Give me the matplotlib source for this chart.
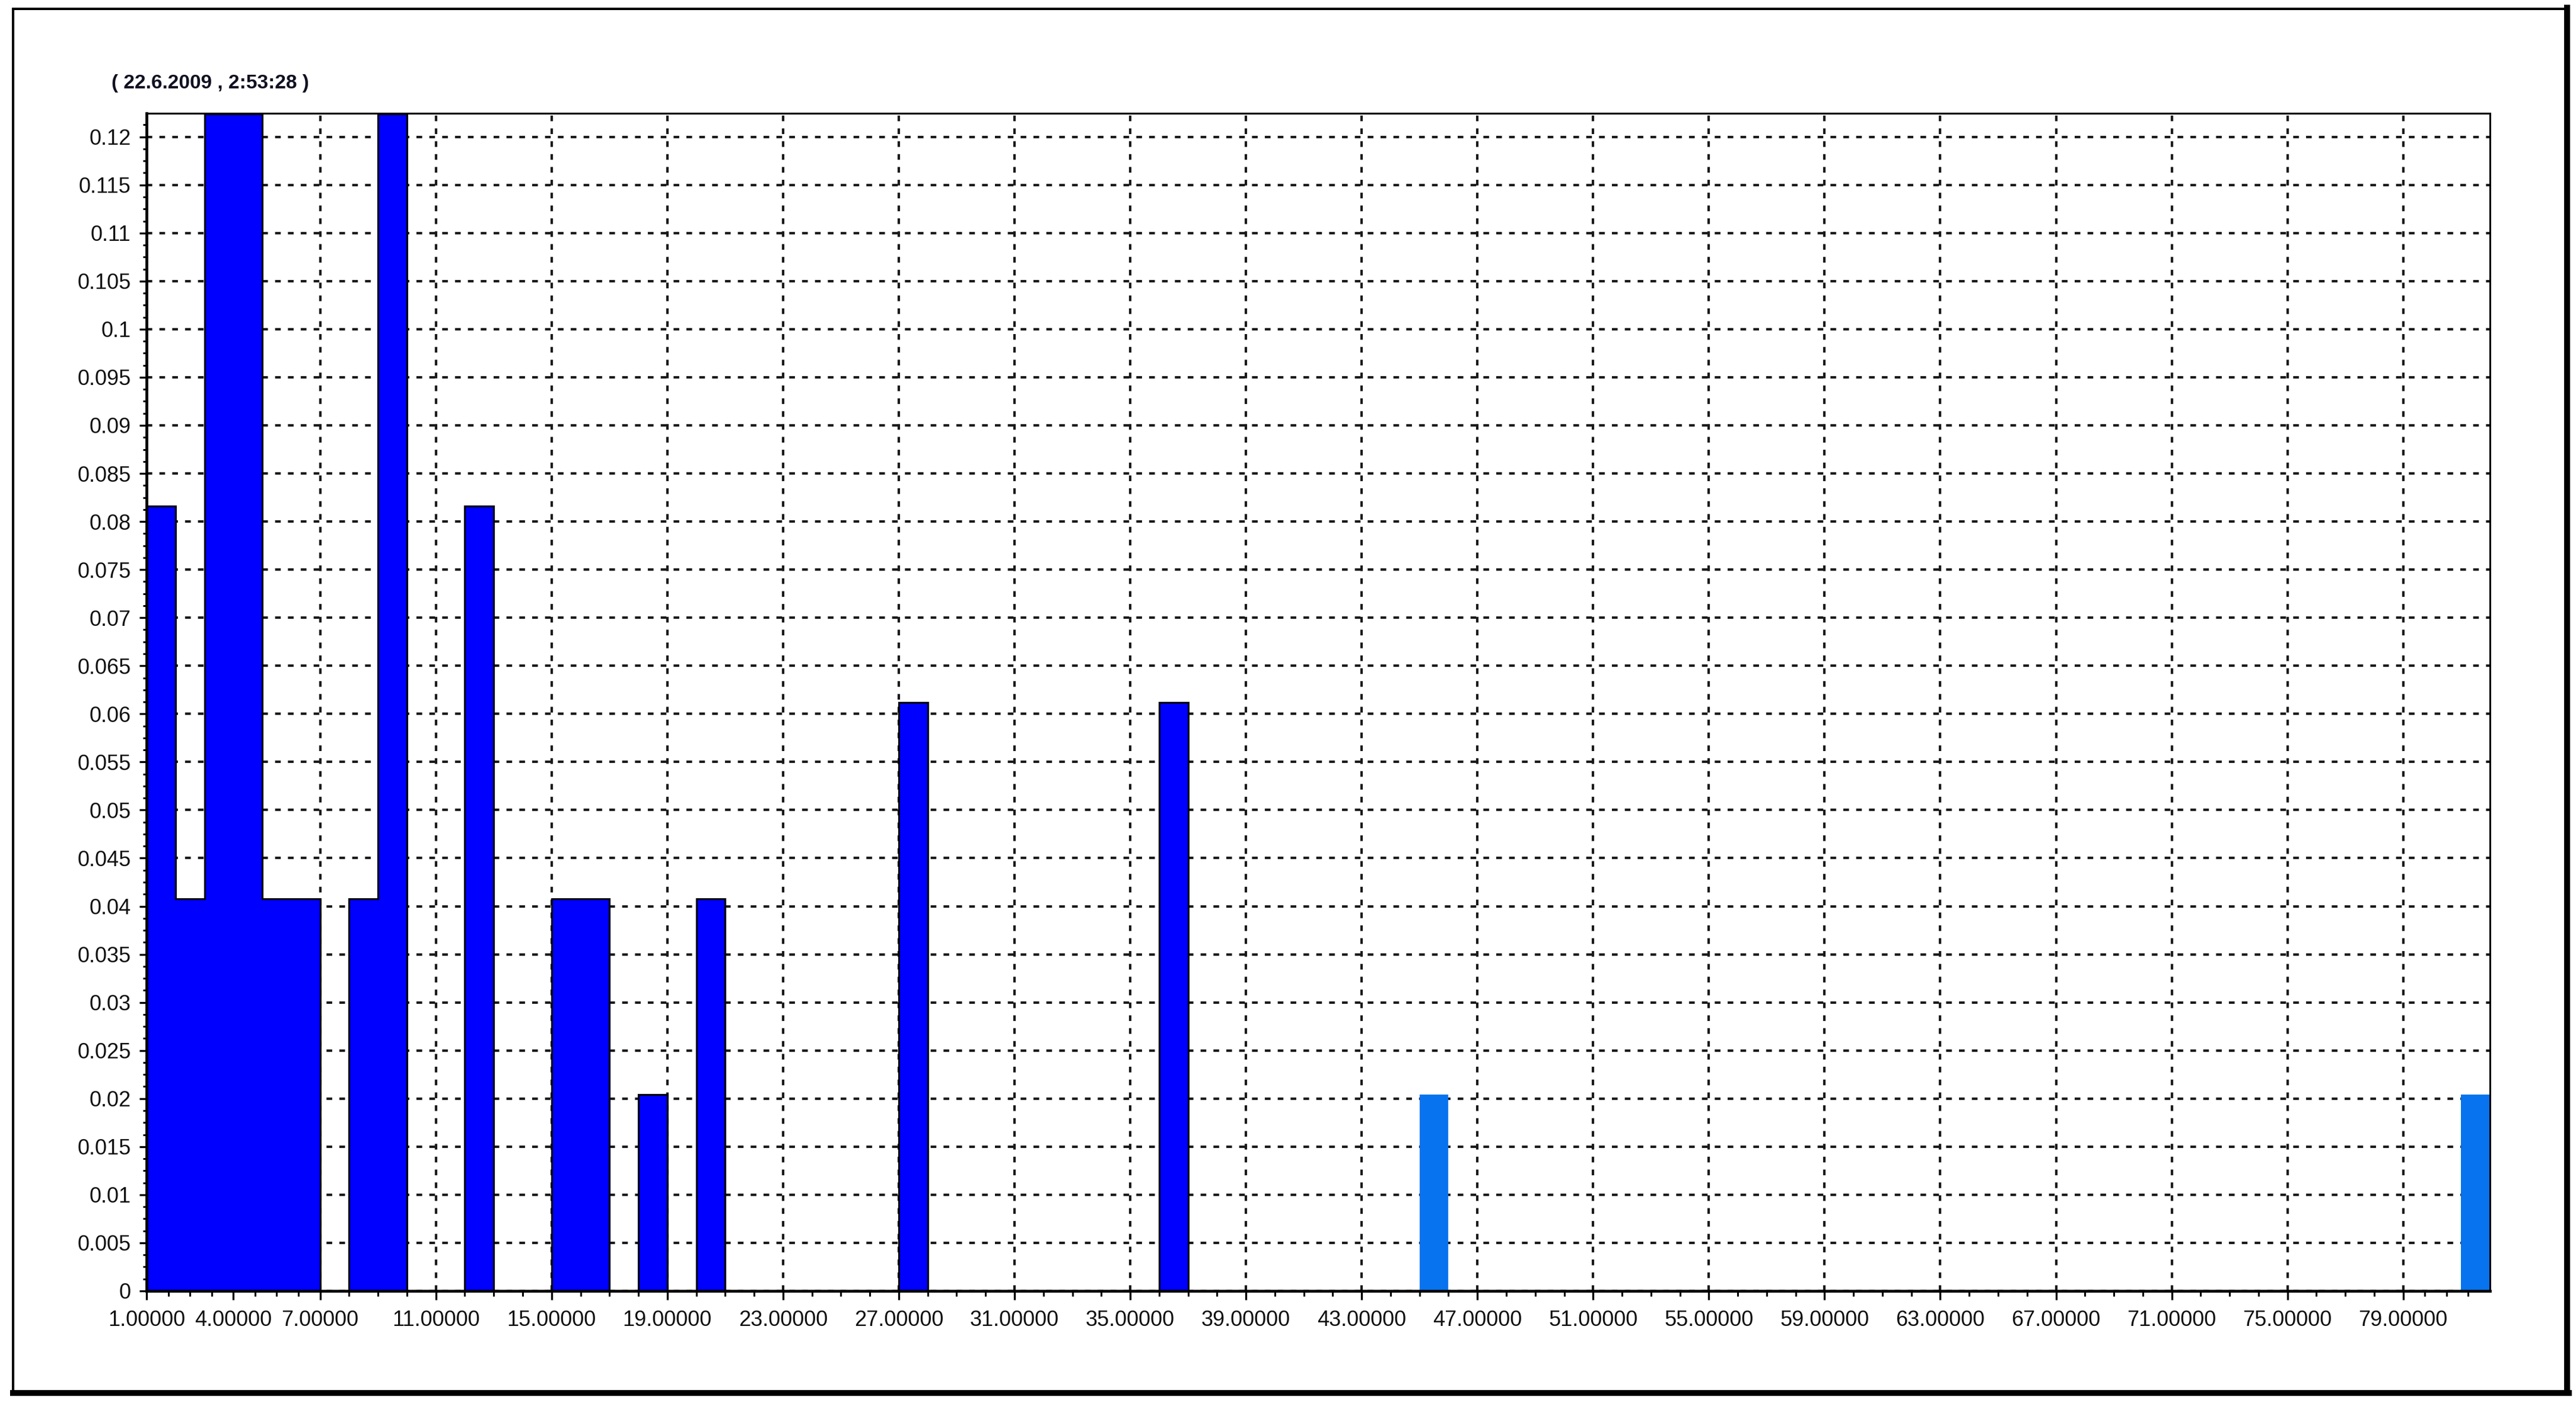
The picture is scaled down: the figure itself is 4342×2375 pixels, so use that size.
import numpy as np
import matplotlib
matplotlib.use('Agg')
import matplotlib.pyplot as plt
from matplotlib import font_manager
from matplotlib.lines import Line2D

# histogram bins (left edge of each 1-wide bin) and relative frequency
main_x = [1, 2, 3, 4, 5, 6, 8, 9, 12, 15, 16, 18, 20, 27, 36]
main_freq = [0.0816, 0.0408, 0.1224, 0.1224, 0.0408, 0.0408, 0.0408, 0.1224,
             0.0816, 0.0408, 0.0408, 0.0204, 0.0408, 0.0612, 0.0612]
hi_x = [45, 81]
hi_freq = [0.0204, 0.0204]

x_ticks = [1, 4, 7, 11, 15, 19, 23, 27, 31, 35, 39, 43, 47, 51, 55, 59, 63, 67, 71, 75, 79]
x_end = 82
y_top = 0.12245
title = '( 22.6.2009 , 2:53:28 )'

names = {f.name for f in font_manager.fontManager.ttflist}
fam = ['Liberation Sans Narrow', 'DejaVu Sans'] if 'Liberation Sans Narrow' in names else ['Liberation Sans', 'DejaVu Sans']
plt.rcParams['font.family'] = fam

fig = plt.figure(figsize=(43.42, 23.75), dpi=100)
ax = fig.add_axes([0.0569, 0.0838, 0.9097, 0.8358])

# full bin array for the step outline
edges = np.arange(1, x_end + 1)
vals = np.zeros(len(edges) - 1)
vals[np.array(main_x) - 1] = main_freq
ax.stairs(vals, edges, fill=True, facecolor='#0000FF', edgecolor='black', linewidth=2.2, zorder=2)
ax.bar(hi_x, hi_freq, width=1, align='edge', color='#0873EE', linewidth=0, zorder=2)

ax.set_xlim(1, x_end)
ax.set_ylim(0, y_top)

ax.set_xticks(x_ticks)
ax.set_xticklabels([f'{v:.5f}' for v in x_ticks])
bounds = x_ticks + [x_end]
minor_x = []
for a, b in zip(bounds[:-1], bounds[1:]):
    minor_x += list(np.linspace(a, b, 5)[1:4])
ax.set_xticks(minor_x, minor=True)

y_ticks = np.arange(0, 0.1201, 0.005)
ax.set_yticks(y_ticks)
ax.set_yticklabels([f'{v:.3f}'.rstrip('0').rstrip('.') if v > 0 else '0' for v in y_ticks])
ax.set_yticks(np.arange(0, y_top, 0.00125), minor=True)

ax.tick_params(axis='both', which='major', labelsize=26, width=2.4, color='black', labelcolor='#111111')
ax.tick_params(axis='x', which='major', length=11, pad=12)
ax.tick_params(axis='x', which='minor', length=6.5, width=2.2)
ax.tick_params(axis='y', which='major', length=9, pad=10)
ax.tick_params(axis='y', which='minor', length=4, width=2.2)

ax.set_axisbelow(True)
ax.grid(True, which='major', color='#1a1a1a', linewidth=3.0, linestyle=(0, (2.3, 2.9)))

for side in ['left', 'bottom']:
    ax.spines[side].set_linewidth(3.4)
for side in ['top', 'right']:
    ax.spines[side].set_linewidth(2.2)

fig.text(0.0433, 0.941, title, fontsize=24, fontweight='bold', color='#111122', ha='left', va='center')

# outer frame
x0, x1 = 0.00507, 0.9965
y0, y1 = 0.01137, 0.99368
fig.add_artist(Line2D([x0, x1], [y1, y1], transform=fig.transFigure, color='black', linewidth=2.9))
fig.add_artist(Line2D([x0, x0], [y0, y1], transform=fig.transFigure, color='black', linewidth=2.9))
fig.add_artist(Line2D([x1, x1], [y0, y1 + 0.001], transform=fig.transFigure, color='black', linewidth=7.2))
fig.add_artist(Line2D([x0, x1 + 0.0008], [y0, y0], transform=fig.transFigure, color='black', linewidth=7.2))

fig.savefig('out.png', dpi=100)
